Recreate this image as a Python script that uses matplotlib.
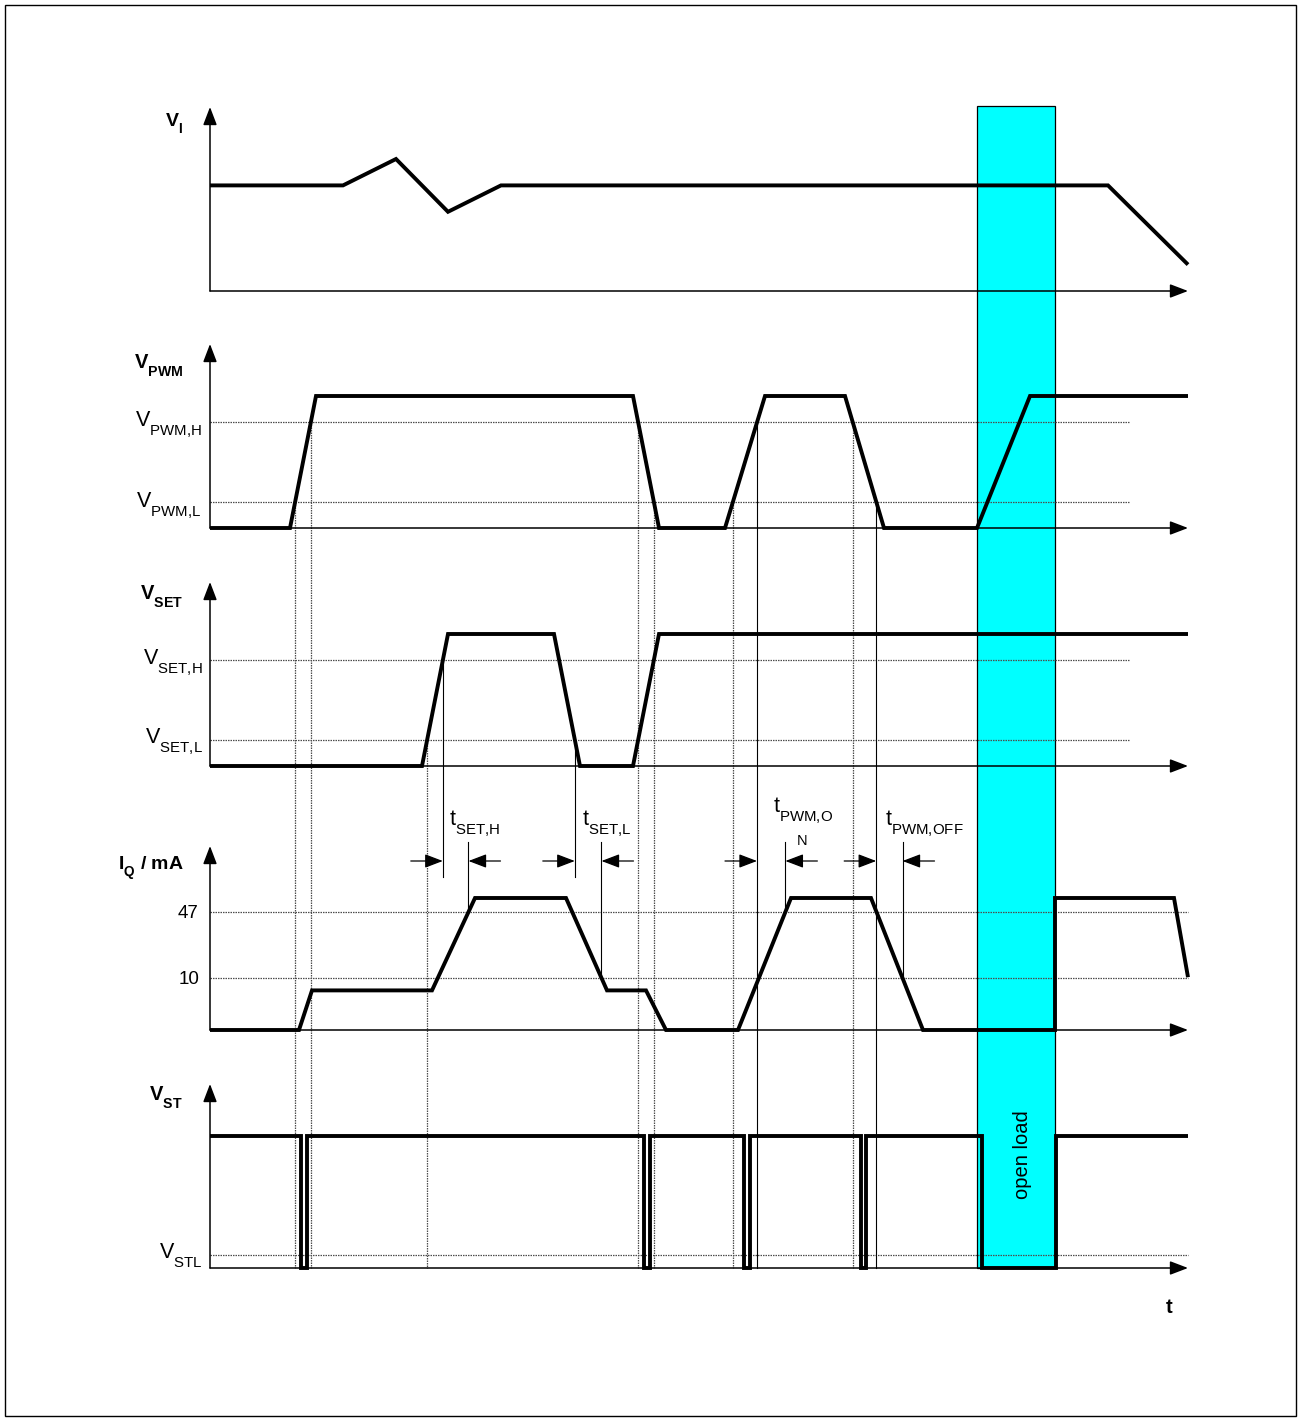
import numpy as np
import matplotlib
matplotlib.use('Agg')
import matplotlib.pyplot as plt
from matplotlib.patches import Rectangle

plt.rcParams['font.family'] = ['Liberation Sans', 'DejaVu Sans']
plt.rcParams['mathtext.fontset'] = 'custom'
plt.rcParams['mathtext.rm'] = 'Liberation Sans'
plt.rcParams['mathtext.bf'] = 'Liberation Sans:bold'
plt.rcParams['mathtext.it'] = 'Liberation Sans:italic'
plt.rcParams['mathtext.sf'] = 'Liberation Sans'
# subscripts sit lower in the original drawing
try:
    import matplotlib._mathtext as _mt
    _mt.FontConstantsBase.sub1 = 0.75
except Exception:
    pass

# waveforms: time (diagram units) and level (0 = low, 1 = high)
t_vi = [0, 133, 186, 238, 291, 898, 978]
lv_vi = [0.8, 0.8, 1.0, 0.6, 0.8, 0.8, 0.2]

t_pwm = [0, 80, 106, 423, 449, 515, 555, 635, 674, 767, 820, 978]
lv_pwm = [0, 0, 1, 1, 0, 0, 1, 1, 0, 0, 1, 1]

t_set = [0, 212, 238, 344, 370, 423, 449, 978]
lv_set = [0, 0, 1, 1, 0, 0, 1, 1]

t_iq = [0, 89, 102, 222, 265, 356, 397, 436, 456, 528, 581, 661, 713, 845, 845, 964, 978]
lv_iq = [0, 0, 0.3, 0.3, 1, 1, 0.3, 0.3, 0, 0, 1, 1, 0, 0, 1, 1, 0.4]

t_st = [0, 91, 91, 96.5, 96.5, 434, 434, 439.5, 439.5, 534, 534, 539.5, 539.5,
        651, 651, 656, 656, 772, 772, 846, 846, 978]
lv_st = [1, 1, 0, 0, 1, 1, 0, 0, 1, 1, 0, 0, 1, 1, 0, 0, 1, 1, 0, 0, 1, 1]

# thresholds
thr_hi, thr_lo = 0.8, 0.2
iq_ticks = ['47', '10']
iq_tick_lv = [0.894, 0.394]
st_low = 0.1

open_load = [767, 845]
t_end = 978

# layout (pixels)
W, H = 1300, 1418
X0 = 210
base = {'vi': 291, 'pwm': 528, 'set': 766, 'iq': 1030, 'st': 1268}
SWING = 132
AX_H = 184


def Y(p, lv):
    return base[p] - np.asarray(lv, dtype=float) * SWING


def crossings(t, v, lv):
    out = []
    for i in range(len(t) - 1):
        a, b = v[i], v[i + 1]
        if a != b and min(a, b) <= lv <= max(a, b) and t[i + 1] != t[i]:
            out.append(t[i] + (lv - a) / (b - a) * (t[i + 1] - t[i]))
    return out


fig = plt.figure(figsize=(13, 14.18), dpi=100)
ax = fig.add_axes([0, 0, 1, 1])
ax.set_xlim(-X0, W - X0)
ax.set_ylim(H, 0)
ax.axis('off')

# frame
ax.add_patch(Rectangle((5 - X0, 5), 1291, 1411, fill=False, lw=1, ec='k'))

# open load band
ax.add_patch(Rectangle((open_load[0], 106), open_load[1] - open_load[0], base['st'] - 106,
                       fc='#00ffff', ec='k', lw=0.9, zorder=0))
ax.text((open_load[0] + open_load[1]) / 2 + 6, 1155, 'open load', rotation=90,
        ha='center', va='center', fontsize=14.5, zorder=6)

# axes with arrows
arr = dict(arrowstyle='-|>,head_length=1.1,head_width=0.42', mutation_scale=10,
           lw=1.1, color='k', shrinkA=0, shrinkB=0)
for p in base:
    ax.annotate('', xy=(t_end, base[p]), xytext=(0, base[p]), arrowprops=arr, zorder=4)
    ax.annotate('', xy=(0, base[p] - AX_H), xytext=(0, base[p]), arrowprops=arr, zorder=4)

dot = dict(color='0.3', lw=0.9, ls=(0, (1.2, 0.8)), zorder=2)
thin = dict(color='k', lw=0.8, zorder=2)

# threshold lines
for p in ('pwm', 'set'):
    for lv in (thr_hi, thr_lo):
        ax.plot([0, 920], [Y(p, lv)] * 2, **dot)
for lv in iq_tick_lv:
    ax.plot([0, t_end], [Y('iq', lv)] * 2, **dot)
ax.plot([0, t_end], [Y('st', st_low)] * 2, **dot)

# crossing lines
pwm_hi = [c for c in crossings(t_pwm, lv_pwm, thr_hi) if c < open_load[0]]
pwm_lo = [c for c in crossings(t_pwm, lv_pwm, thr_lo) if c < open_load[0]]
set_hi = crossings(t_set, lv_set, thr_hi)
set_lo = crossings(t_set, lv_set, thr_lo)
iq_hi = crossings(t_iq, lv_iq, iq_tick_lv[0])
iq_lo = crossings(t_iq, lv_iq, iq_tick_lv[1])

for i, x in enumerate(pwm_hi):
    ax.plot([x, x], [Y('pwm', thr_hi), base['st']], **(thin if i == 2 else dot))
for i, x in enumerate(pwm_lo):
    ax.plot([x, x], [Y('pwm', thr_lo), base['st']], **(thin if i == 3 else dot))
ax.plot([set_lo[0]] * 2, [Y('set', thr_lo), base['st']], **dot)

ARR_Y, RESP_TOP, REF_BOT = 861, 842, 877
timings = [
    # label, ref time, ref line start, response time, response level, label dx, label baseline
    ('SET{,}H', set_hi[0], Y('set', thr_hi), iq_hi[0], iq_tick_lv[0], 6, 825),
    ('SET{,}L', set_lo[1], Y('set', thr_lo), iq_lo[1], iq_tick_lv[1], 7, 825),
    ('PWM{,}O', pwm_hi[2], None, iq_hi[2], iq_tick_lv[0], 16, 812),
    ('PWM{,}OFF', pwm_lo[3], None, iq_lo[3], iq_tick_lv[1], 9, 825),
]
small = dict(arrowstyle='-|>,head_length=1.1,head_width=0.42', mutation_scale=10,
             lw=0.9, color='k', shrinkA=0, shrinkB=0)
for lab, ref, ref_top, resp, resp_lv, dx, yb in timings:
    if ref_top is not None:
        ax.plot([ref, ref], [ref_top, REF_BOT], **thin)
    ax.plot([resp, resp], [RESP_TOP, Y('iq', resp_lv)], **thin)
    ax.annotate('', xy=(ref, ARR_Y), xytext=(ref - 32, ARR_Y), arrowprops=small)
    ax.annotate('', xy=(resp, ARR_Y), xytext=(resp + 32, ARR_Y), arrowprops=small)
    ax.text(ref + dx, yb, r'$\mathrm{t_{%s}}$' % lab, ha='left', va='baseline', fontsize=15.5)
ax.text(pwm_hi[2] + 45, 841, 'N', ha='center', va='center', fontsize=10.5)

# waveforms
wave = dict(color='k', lw=2.8, solid_joinstyle='miter', solid_capstyle='butt', zorder=5)
ax.plot(t_vi, Y('vi', lv_vi), **wave)
ax.plot(t_pwm, Y('pwm', lv_pwm), **wave)
ax.plot(t_set, Y('set', lv_set), **wave)
ax.plot(t_iq, Y('iq', lv_iq), **wave)
ax.plot(t_st, Y('st', lv_st), **wave)

# panel titles
ax.text(-27, 126, r'$\mathbf{V_I}$', ha='right', va='baseline', fontsize=14)
ax.text(-27, 369, r'$\mathbf{V_{PWM}}$', ha='right', va='baseline', fontsize=14.5)
ax.text(-27, 600, r'$\mathbf{V_{SET}}$', ha='right', va='baseline', fontsize=14.5)
ax.text(-26, 870, r'$\mathbf{I_Q}$ / mA', ha='right', va='baseline', fontsize=14, fontweight='bold')
ax.text(-27, 1101, r'$\mathbf{V_{ST}}$', ha='right', va='baseline', fontsize=14.5)

# level labels
ax.text(-8, Y('pwm', thr_hi) + 4, r'$\mathrm{V_{PWM{,}H}}$', ha='right', va='baseline', fontsize=15.5)
ax.text(-9, Y('pwm', thr_lo) + 5, r'$\mathrm{V_{PWM{,}L}}$', ha='right', va='baseline', fontsize=15.5)
ax.text(-7, Y('set', thr_hi) + 4, r'$\mathrm{V_{SET{,}H}}$', ha='right', va='baseline', fontsize=15.5)
ax.text(-7, Y('set', thr_lo) + 3, r'$\mathrm{V_{SET{,}L}}$', ha='right', va='baseline', fontsize=15.5)
ax.text(-7, Y('st', st_low) + 3, r'$\mathrm{V_{STL}}$', ha='right', va='baseline', fontsize=15.5)
for lab, lv in zip(iq_ticks, iq_tick_lv):
    ax.text(-11, Y('iq', lv) + 2, lab, ha='right', va='center', fontsize=13.5)

ax.text(1169 - X0, 1313, 't', ha='center', va='baseline', fontsize=14.5, fontweight='bold')

fig.savefig('out.png', dpi=100)
